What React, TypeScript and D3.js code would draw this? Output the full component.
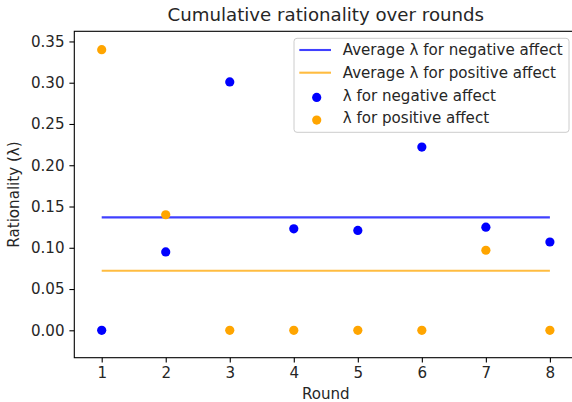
import React, { useEffect, useRef } from "react";
import * as d3 from "d3";

const rounds = [1, 2, 3, 4, 5, 6, 7, 8];
const negativeLambda = [0.0, 0.095, 0.301, 0.123, 0.121, 0.222, 0.125, 0.107];
const positiveLambda = [0.34, 0.14, 0.0, 0.0, 0.0, 0.0, 0.097, 0.0];
const negativeAverage = 0.1368;
const positiveAverage = 0.0722;
const yTicks = [0.0, 0.05, 0.1, 0.15, 0.2, 0.25, 0.3, 0.35];
const legendLabels = [
  "Average λ for negative affect",
  "Average λ for positive affect",
  "λ for negative affect",
  "λ for positive affect",
];

const App = () => {
  const ref = useRef<SVGSVGElement>(null);

  useEffect(() => {
    const svg = d3.select(ref.current);
    svg.selectAll("*").remove();

    const margin = { top: 31.3, right: -5.3, bottom: 44.3, left: 74.3 };
    const W = 572, H = 402;
    const font = "DejaVu Sans, sans-serif";
    const fs = 15.1;

    const x = d3.scaleLinear().domain([0.572, 8.428]).range([margin.left, W - margin.right]);
    const y = d3.scaleLinear().domain([-0.0332, 0.3623]).range([H - margin.bottom, margin.top]);

    svg.append("rect").attr("width", W).attr("height", H).attr("fill", "white");

    // axes
    const xAxis = svg
      .append("g")
      .attr("transform", `translate(0, ${H - margin.bottom})`)
      .call(d3.axisBottom(x).tickValues(rounds).tickFormat(d3.format("d")).tickSize(4.9).tickPadding(4.9));
    const yAxis = svg
      .append("g")
      .attr("transform", `translate(${margin.left}, 0)`)
      .call(d3.axisLeft(y).tickValues(yTicks).tickFormat(d3.format(".2f")).tickSize(4.9).tickPadding(4.9));

    [xAxis, yAxis].forEach((g) => {
      g.select(".domain").remove();
      g.selectAll("line").attr("stroke", "#000").attr("stroke-width", 1.1);
      g.selectAll("text").attr("font-family", font).attr("font-size", fs).attr("fill", "#262626");
    });

    // spines
    svg
      .append("rect")
      .attr("x", margin.left)
      .attr("y", margin.top)
      .attr("width", W - margin.right - margin.left)
      .attr("height", H - margin.bottom - margin.top)
      .attr("fill", "none")
      .attr("stroke", "#000")
      .attr("stroke-width", 1.1);

    // average lines
    const avgs = [
      { v: negativeAverage, c: "blue" },
      { v: positiveAverage, c: "orange" },
    ];
    avgs.forEach((a) => {
      svg
        .append("line")
        .attr("x1", x(rounds[0]))
        .attr("x2", x(rounds[rounds.length - 1]))
        .attr("y1", y(a.v))
        .attr("y2", y(a.v))
        .attr("stroke", a.c)
        .attr("stroke-opacity", 0.75)
        .attr("stroke-width", 2.1);
    });

    // scatter points
    svg
      .append("g")
      .selectAll("circle")
      .data(rounds)
      .join("circle")
      .attr("cx", (d) => x(d))
      .attr("cy", (d, i) => y(negativeLambda[i]))
      .attr("r", 4.6)
      .attr("fill", "blue");

    svg
      .append("g")
      .selectAll("circle")
      .data(rounds)
      .join("circle")
      .attr("cx", (d) => x(d))
      .attr("cy", (d, i) => y(positiveLambda[i]))
      .attr("r", 4.6)
      .attr("fill", "orange");

    // titles
    const cx = (margin.left + W - margin.right) / 2;
    svg
      .append("text")
      .attr("x", cx)
      .attr("y", 21)
      .attr("text-anchor", "middle")
      .attr("font-family", font)
      .attr("font-size", 18.2)
      .attr("fill", "#262626")
      .text("Cumulative rationality over rounds");

    svg
      .append("text")
      .attr("x", cx)
      .attr("y", 399)
      .attr("text-anchor", "middle")
      .attr("font-family", font)
      .attr("font-size", fs)
      .attr("fill", "#262626")
      .text("Round");

    svg
      .append("text")
      .attr("transform", `translate(18.5, ${(margin.top + H - margin.bottom) / 2}) rotate(-90)`)
      .attr("text-anchor", "middle")
      .attr("font-family", font)
      .attr("font-size", fs)
      .attr("fill", "#262626")
      .text("Rationality (λ)");

    // legend
    const lg = svg.append("g").attr("transform", "translate(294, 38.3)");
    lg.append("rect")
      .attr("width", 275)
      .attr("height", 94)
      .attr("rx", 3)
      .attr("fill", "white")
      .attr("fill-opacity", 0.8)
      .attr("stroke", "#cccccc");

    const rowY = [11.7, 34.4, 57.1, 79.8];
    const kinds = ["line", "line", "dot", "dot"];
    const colors = ["blue", "orange", "blue", "orange"];
    legendLabels.forEach((label, i) => {
      if (kinds[i] === "line") {
        lg.append("line")
          .attr("x1", 5.3)
          .attr("x2", 37)
          .attr("y1", rowY[i])
          .attr("y2", rowY[i])
          .attr("stroke", colors[i])
          .attr("stroke-opacity", 0.75)
          .attr("stroke-width", 2.1);
      } else {
        lg.append("circle")
          .attr("cx", 22.7)
          .attr("cy", rowY[i] + 2)
          .attr("r", 4.6)
          .attr("fill", colors[i]);
      }
      lg.append("text")
        .attr("x", 48.7)
        .attr("y", rowY[i])
        .attr("dy", "0.35em")
        .attr("font-family", font)
        .attr("font-size", fs)
        .attr("fill", "#262626")
        .text(label);
    });
  }, []);

  return (
    <svg
      ref={ref}
      width={572}
      height={402}
      style={{ position: "absolute", left: 0, top: 0, display: "block" }}
    />
  );
};

export default App;
